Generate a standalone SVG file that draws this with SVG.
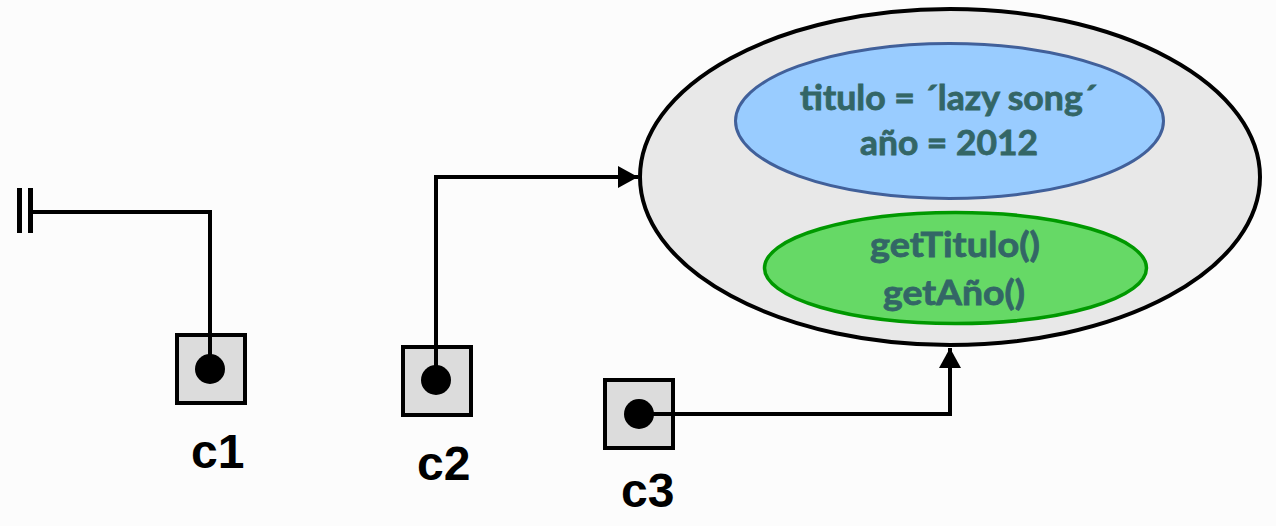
<svg xmlns="http://www.w3.org/2000/svg" width="1276" height="526" viewBox="0 0 1276 526">
<defs>
<style>
.box{fill:#dcdcdc;stroke:#000;stroke-width:4}
.dot{fill:#000}
.wire{fill:none;stroke:#000;stroke-width:4}
.lbl{font-family:"Liberation Sans",Arial,sans-serif;font-weight:bold;font-size:48px;fill:#000}
.in{font-family:Lato,"Open Sans",sans-serif;font-weight:bold;font-size:34px;fill:#336666;stroke:#336666;stroke-width:0.8;text-anchor:middle}
</style>
<marker id="arr" viewBox="0 0 20 22" refX="20" refY="11" markerWidth="20" markerHeight="22" markerUnits="userSpaceOnUse" orient="auto">
<path d="M0,0 L20,11 L0,22 Z" fill="#000"/>
</marker>
</defs>
<rect width="1276" height="526" fill="#fcfcfc"/>
<g id="object">
<ellipse cx="950" cy="177" rx="310" ry="168" fill="#e8e8e8" stroke="#000" stroke-width="4"/>
</g>
<g id="attributes">
<ellipse cx="949.5" cy="121" rx="214" ry="77.5" fill="#99ccff" stroke="#41609a" stroke-width="3"/>
<text class="in" x="948.5" y="110" textLength="297" lengthAdjust="spacingAndGlyphs">titulo = ´lazy song´</text>
<text class="in" x="949" y="155" textLength="178" lengthAdjust="spacingAndGlyphs">año = 2012</text>
</g>
<g id="methods">
<ellipse cx="955.5" cy="268" rx="191" ry="55.5" fill="#66d966" stroke="#009900" stroke-width="3.5"/>
<text class="in" x="955" y="257" textLength="170" lengthAdjust="spacingAndGlyphs">getTitulo()</text>
<text class="in" x="954" y="305" textLength="142" lengthAdjust="spacingAndGlyphs">getAño()</text>
</g>
<g id="c1">
<rect class="box" x="177" y="335" width="68" height="68"/>
<circle class="dot" cx="210" cy="369" r="15"/>
<text class="lbl" x="191" y="468">c1</text>
</g>
<g id="c2">
<rect class="box" x="403" y="347" width="68" height="68"/>
<circle class="dot" cx="436" cy="380" r="15"/>
<text class="lbl" x="417" y="480">c2</text>
</g>
<g id="c3">
<rect class="box" x="605" y="380" width="68" height="68"/>
<circle class="dot" cx="639" cy="414" r="15"/>
<text class="lbl" x="621" y="507">c3</text>
</g>
<g id="connectors">
<polyline class="wire" points="210,369 210,212 31,212"/>
<rect x="17" y="188" width="5" height="45" fill="#000"/>
<rect x="28" y="188" width="5" height="45" fill="#000"/>
<polyline class="wire" points="436,380 436,177 638,177" marker-end="url(#arr)"/>
<polyline class="wire" points="639,414 950,414 950,348" marker-end="url(#arr)"/>
</g>
</svg>
